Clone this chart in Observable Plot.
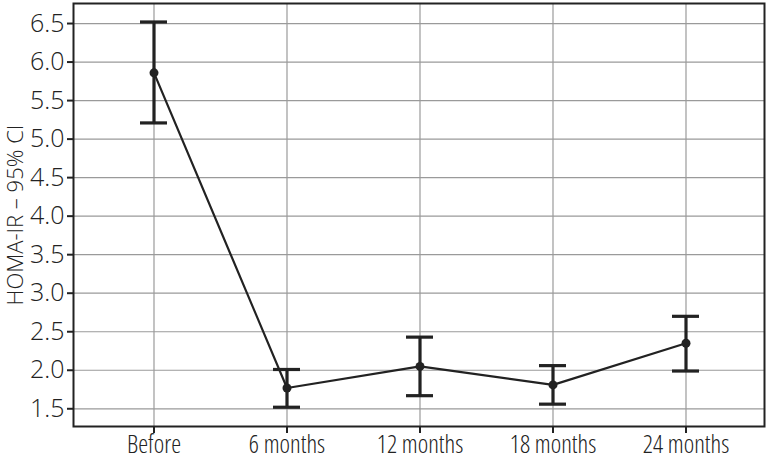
<!DOCTYPE html>
<html>
<head>
<meta charset="utf-8">
<script src="https://cdn.jsdelivr.net/npm/d3@7"></script>
<script src="https://cdn.jsdelivr.net/npm/@observablehq/plot@0.6"></script>
<style>
  html, body { margin: 0; padding: 0; background: #fff; }
  #chart svg { display: block; }
  #chart svg text { font-stretch: 75%; font-weight: 350; }
  #chart svg g[aria-label="y-axis tick label"] text { font-stretch: 100%; font-weight: 330; }
  #chart svg g[aria-label="y-axis label"] text { font-stretch: 100%; font-weight: 320; letter-spacing: 0px; }
</style>
</head>
<body>
<div id="chart"></div>
<script>
const timepoints = ["Before", "6 months", "12 months", "18 months", "24 months"];
const means = [5.86, 1.77, 2.05, 1.81, 2.35];
const lower = [5.21, 1.52, 1.67, 1.56, 1.99];
const upper = [6.52, 2.01, 2.43, 2.06, 2.70];
const yTicks = [1.5, 2.0, 2.5, 3.0, 3.5, 4.0, 4.5, 5.0, 5.5, 6.0, 6.5];
const yLabel = "HOMA-IR – 95% CI";

const data = timepoints.map((t, i) => ({t, mean: means[i], lo: lower[i], hi: upper[i]}));
const font = "'Open Sans', 'Liberation Sans Narrow', 'DejaVu Sans Condensed', sans-serif";
const ink = "#222";

const chart = Plot.plot({
  width: 767,
  height: 460,
  marginLeft: 73,
  marginRight: 3,
  marginTop: 3,
  marginBottom: 34,
  style: {fontFamily: font, background: "#fff", color: ink},
  x: {type: "band", domain: timepoints, paddingInner: 0, paddingOuter: 0.09, align: 0.55},
  y: {domain: [1.27, 6.76]},
  marks: [
    Plot.gridY(yTicks, {stroke: "#9a9a9a", strokeOpacity: 1, strokeWidth: 1.2}),
    Plot.gridX(timepoints, {stroke: "#9a9a9a", strokeOpacity: 1, strokeWidth: 1.2}),
    Plot.frame({stroke: ink, strokeWidth: 2}),
    Plot.axisY(yTicks, {tickFormat: d3.format(".1f"), fontSize: 25, tickSize: 6, tickPadding: 3, stroke: ink, fill: ink, strokeWidth: 2, label: null}),
    Plot.axisY({ticks: [], label: yLabel, labelAnchor: "center", labelArrow: "none", labelOffset: 66, fontSize: 22, fill: ink}),
    Plot.axisX({fontSize: 25, tickSize: 7, tickPadding: 2, stroke: ink, fill: ink, strokeWidth: 2, label: null}),
    Plot.ruleX(data, {x: "t", y1: "lo", y2: "hi", stroke: ink, strokeWidth: 3.2}),
    Plot.tickY(data, {x: "t", y: "lo", stroke: ink, strokeWidth: 3.2, insetLeft: 53, insetRight: 53}),
    Plot.tickY(data, {x: "t", y: "hi", stroke: ink, strokeWidth: 3.2, insetLeft: 53, insetRight: 53}),
    Plot.line(data, {x: "t", y: "mean", stroke: ink, strokeWidth: 2.2}),
    Plot.dot(data, {x: "t", y: "mean", r: 4.5, fill: ink, stroke: "none"})
  ]
});
document.getElementById("chart").appendChild(chart);
</script>
</body>
</html>
